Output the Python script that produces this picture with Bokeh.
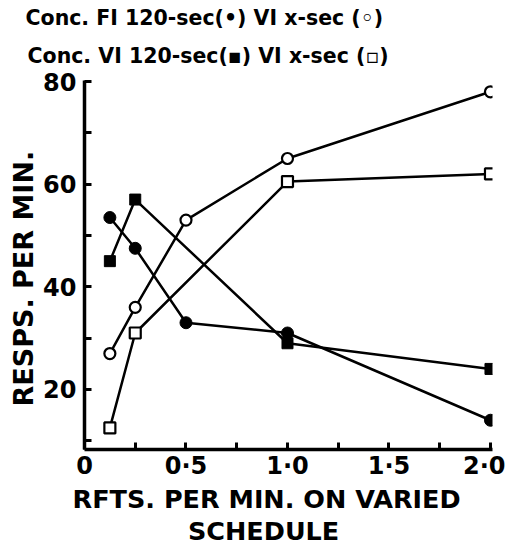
from bokeh.plotting import figure
from bokeh.models import FixedTicker, CustomJSTickFormatter, Title, Range1d
from bokeh.embed import file_html
from bokeh.resources import INLINE

# data
x_fi = [0.125, 0.25, 0.5, 1.0, 2.0]
fi_fixed = [53.5, 47.5, 33, 31, 14]      # Conc. FI 120-sec (filled circles)
fi_var = [27, 36, 53, 65, 78]            # VI x-sec (open circles)
x_vi = [0.125, 0.25, 1.0, 2.0]
vi_fixed = [45, 57, 29, 24]              # Conc. VI 120-sec (filled squares)
vi_var = [12.5, 31, 60.5, 62]            # VI x-sec (open squares)

x_ticks = [0, 0.25, 0.5, 0.75, 1.0, 1.25, 1.5, 1.75, 2.0]
y_ticks = [10, 20, 30, 40, 50, 60, 70, 80]

FONT = "DejaVu Sans"

p = figure(frame_width=408, frame_height=369,
           x_range=Range1d(0, 2.01), y_range=Range1d(8.3, 80.2),
           output_backend="svg", toolbar_location=None,
           min_border_left=84, min_border_right=13,
           min_border_top=80, min_border_bottom=96)
p.outline_line_color = None
p.grid.visible = False
p.background_fill_color = "white"

for ax in (p.xaxis[0], p.yaxis[0]):
    ax.axis_line_width = 3.5
    ax.major_tick_line_width = 3
    ax.minor_tick_line_color = None
    ax.major_tick_in = 7
    ax.major_tick_out = 0
    ax.major_label_text_font = FONT
    ax.major_label_text_font_style = "bold"
    ax.major_label_text_font_size = "24px"
    ax.major_label_text_color = "black"
    ax.axis_line_color = "black"
    ax.major_tick_line_color = "black"

p.xaxis.ticker = FixedTicker(ticks=x_ticks)
p.xaxis.formatter = CustomJSTickFormatter(code="""
const m = {"0.00":"0","0.50":"0\u00b75","1.00":"1\u00b70","1.50":"1\u00b75","2.00":"2\u00b70"};
const k = tick.toFixed(2);
return (k in m) ? m[k] : "";
""")
p.xaxis.major_label_standoff = 2
p.yaxis.ticker = FixedTicker(ticks=y_ticks)
p.yaxis.formatter = CustomJSTickFormatter(code="return (tick % 20 === 0) ? String(tick) : '';")
p.yaxis.major_label_standoff = 8

# series
lw = 2.5
p.line(x_fi, fi_fixed, line_color="black", line_width=lw)
p.line(x_fi, fi_var, line_color="black", line_width=lw)
p.line(x_vi, vi_fixed, line_color="black", line_width=lw)
p.line(x_vi, vi_var, line_color="black", line_width=lw)
p.scatter(x_fi, fi_fixed, marker="circle", size=12, fill_color="black", line_color="black")
p.scatter(x_fi, fi_var, marker="circle", size=11, fill_color="white", line_color="black", line_width=2.2)
p.scatter(x_vi, vi_fixed, marker="square", size=11, fill_color="black", line_color="black")
p.scatter(x_vi, vi_var, marker="square", size=11, fill_color="white", line_color="black", line_width=2.2)

def mk_title(text, size, offset, align="left", standoff=0, lh=1.0):
    return Title(text=text, align=align, offset=offset, standoff=standoff,
                 text_font=FONT, text_font_style="bold", text_font_size=size,
                 text_color="black", text_line_height=lh)

# titles above (nearest first)
p.add_layout(mk_title("Conc. VI 120-sec(\u25aa) VI  x-sec (\u25ab)", "20.5px", -57, standoff=25), "above")
p.add_layout(mk_title("Conc. FI 120-sec(\u2022) VI  x-sec (\u25e6)", "20.5px", -59, standoff=0), "above")

# x axis label (two lines, second indented)
p.add_layout(mk_title("RFTS. PER MIN. ON VARIED\n" + "\u00a0" * 13 + "SCHEDULE",
                      "25.5px", -12, standoff=0, lh=1.08), "below")

# y axis label
p.add_layout(mk_title("RESPS. PER MIN.", "27px", 43, standoff=4), "left")

open("out.html", "w").write(file_html(p, INLINE))
